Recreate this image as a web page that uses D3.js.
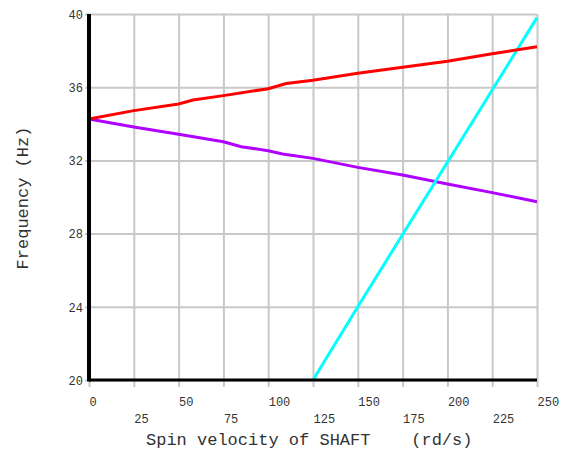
<!DOCTYPE html>
<html>
<head>
<meta charset="utf-8">
<script src="https://cdn.jsdelivr.net/npm/d3@7"></script>
<style>
  body { margin: 0; background: #fff; }
  text { font-family: "Liberation Mono", "Courier New", monospace; fill: #333; }
</style>
</head>
<body>
<script>
// data
const xTicks = [0, 25, 50, 75, 100, 125, 150, 175, 200, 225, 250]
const yTicks = [20, 24, 28, 32, 36, 40]

const redX = [0, 25, 50, 58, 75, 100, 110, 125, 150, 175, 200, 225, 250]
const redY = [34.26, 34.72, 35.08, 35.3, 35.54, 35.92, 36.2, 36.38, 36.76, 37.09, 37.42, 37.83, 38.21]

const purpleX = [0, 25, 50, 75, 85, 100, 108, 125, 150, 175, 200, 225, 250]
const purpleY = [34.26, 33.82, 33.43, 33.02, 32.75, 32.53, 32.35, 32.11, 31.62, 31.2, 30.71, 30.24, 29.74]

const cyanX = [125, 150, 175, 200, 225, 250]
const cyanY = [20, 24, 27.95, 31.9, 35.85, 39.8]

// append svg to body
let svg = d3.select('body').append('svg')
    .attr('width', 571)
    .attr('height', 450)

let xScale = d3.scaleLinear().domain([0, 250]).range([89, 537])
let yScale = d3.scaleLinear().domain([20, 40]).range([380, 14])

const plotH = yScale(20) - yScale(40)
const plotW = xScale(250) - xScale(0)

// vertical grid + labels in two rows
let gx = svg.append('g')
    .attr('transform', 'translate(0,' + yScale(20) + ')')
    .call(d3.axisBottom(xScale).tickValues(xTicks).tickFormat(d => d))
gx.select('.domain').remove()
gx.selectAll('.tick line')
    .attr('y1', 7)
    .attr('y2', -plotH)
    .attr('stroke', '#c8c8c8')
    .attr('stroke-width', 2)
gx.selectAll('.tick text')
    .attr('text-anchor', 'start')
    .attr('dy', null)
    .attr('x', 0)
    .attr('y', (d, i) => i % 2 ? 43 : 26)
    .attr('font-size', 12)
    .attr('font-family', null)

// horizontal grid + labels
let gy = svg.append('g')
    .attr('transform', 'translate(' + xScale(0) + ',0)')
    .call(d3.axisLeft(yScale).tickValues(yTicks))
gy.select('.domain').remove()
gy.selectAll('.tick line')
    .attr('x1', -4)
    .attr('x2', plotW)
    .attr('stroke', '#c8c8c8')
    .attr('stroke-width', 2)
gy.selectAll('.tick text')
    .attr('x', -6)
    .attr('dy', '0.36em')
    .attr('font-size', 12)
    .attr('font-family', null)

// the curves
let line = d3.line()
    .x(d => xScale(d[0]))
    .y(d => yScale(d[1]))

const series = [
    { xs: purpleX, ys: purpleY, color: '#b000ff' },
    { xs: cyanX, ys: cyanY, color: '#00ffff' },
    { xs: redX, ys: redY, color: '#ff0000' }
]
series.forEach(s => {
    svg.append('path')
        .datum(s.xs.map((x, i) => [x, s.ys[i]]))
        .attr('d', line)
        .attr('fill', 'none')
        .attr('stroke', s.color)
        .attr('stroke-width', 3)
})

// black axes on left and bottom
svg.append('line')
    .attr('x1', xScale(0)).attr('x2', xScale(0))
    .attr('y1', yScale(40)).attr('y2', yScale(20) + 1.5)
    .attr('stroke', '#000').attr('stroke-width', 4)
svg.append('line')
    .attr('x1', xScale(0)).attr('x2', xScale(250))
    .attr('y1', yScale(20)).attr('y2', yScale(20))
    .attr('stroke', '#000').attr('stroke-width', 3)

// axis titles
svg.append('text')
    .attr('x', 146)
    .attr('y', 445)
    .attr('font-size', 17)
    .style('white-space', 'pre')
    .text('Spin velocity of SHAFT    (rd/s)')

svg.append('text')
    .attr('transform', 'translate(28,198) rotate(-90)')
    .attr('text-anchor', 'middle')
    .attr('font-size', 17)
    .style('white-space', 'pre')
    .text('Frequency (Hz)')
</script>
</body>
</html>
